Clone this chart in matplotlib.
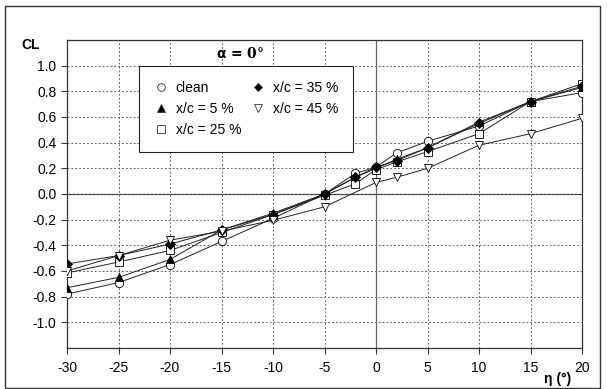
import matplotlib.pyplot as plt
from matplotlib.lines import Line2D
from matplotlib.patches import Rectangle

plt.rcParams['font.family'] = ['Liberation Sans', 'DejaVu Sans']

# flap deflection (deg) and lift coefficient per gap position
eta = [-30, -25, -20, -15, -10, -5, -2, 0, 2, 5, 10, 15, 20]
eta_45 = [-30, -25, -20, -15, -10, -5, 0, 2, 5, 10, 15, 20]

cl_clean = [-0.78, -0.69, -0.55, -0.37, -0.19, 0.00, 0.16, 0.21, 0.32, 0.41, 0.53, 0.72, 0.79]
cl_5 = [-0.73, -0.65, -0.51, -0.28, -0.15, 0.00, 0.13, 0.20, 0.27, 0.36, 0.56, 0.72, 0.83]
cl_25 = [-0.615, -0.53, -0.44, -0.30, -0.16, -0.01, 0.08, 0.19, 0.25, 0.33, 0.47, 0.72, 0.86]
cl_35 = [-0.545, -0.48, -0.39, -0.28, -0.16, 0.00, 0.13, 0.21, 0.26, 0.36, 0.55, 0.72, 0.84]
cl_45 = [-0.60, -0.48, -0.36, -0.29, -0.205, -0.10, 0.09, 0.13, 0.20, 0.38, 0.47, 0.59]

labels = ['clean', 'x/c = 5 %', 'x/c = 25 %', 'x/c = 35 %', 'x/c = 45 %']
yticks = [-1.0, -0.8, -0.6, -0.4, -0.2, 0.0, 0.2, 0.4, 0.6, 0.8, 1.0]
xticks = [-30, -25, -20, -15, -10, -5, 0, 5, 10, 15, 20]

series = [
    (eta, cl_clean, 'o', 'white'),
    (eta, cl_5, '^', 'black'),
    (eta, cl_25, 's', 'white'),
    (eta, cl_35, 'D', 'black'),
    (eta_45, cl_45, 'v', 'white'),
]

fig = plt.figure(figsize=(6.07, 3.89), dpi=100)
ax = fig.add_axes([67 / 607, 1 - 348 / 389, 515 / 607, 308 / 389])

ax.set_xlim(-30, 20)
ax.set_ylim(-1.2, 1.2)
ax.set_xticks(xticks)
ax.set_yticks(yticks)
ax.set_xticklabels([str(t) for t in xticks])
ax.set_yticklabels(['%.1f' % t for t in yticks])
ax.tick_params(direction='out', length=4, width=0.8, labelsize=10, color='#333333')
ax.tick_params(axis='x', pad=5)

ax.grid(True, linestyle=(0, (2, 2)), color='#666666', linewidth=0.7)
ax.axhline(0, color='#333333', linewidth=0.9, zorder=1)
ax.axvline(0, color='#666666', linewidth=0.9, zorder=1)
for s in ax.spines.values():
    s.set_color('#333333')
    s.set_linewidth(0.9)

for x, y, m, fc in series:
    ms = 5 if m == 'D' else 6
    ax.plot(x, y, color='#222222', linewidth=0.7, marker=m, markersize=ms,
            markerfacecolor=fc, markeredgecolor='black', markeredgewidth=0.6, zorder=3)

handles = []
for (_, _, m, fc), lab in zip(series, labels):
    ms = 4.5 if m == 'D' else 5.5
    handles.append(Line2D([], [], linestyle='none', marker=m, markersize=ms,
                          markerfacecolor=fc, markeredgecolor='#333333',
                          markeredgewidth=0.6, label=lab))
leg = fig.legend(handles=handles, ncol=2, loc='upper left',
                 bbox_to_anchor=(139 / 607, 1 - 66 / 389), borderaxespad=0,
                 fancybox=False, framealpha=1, edgecolor='#222222',
                 fontsize=10, handlelength=1.0, handletextpad=0.55,
                 columnspacing=0.7, labelspacing=0.5, borderpad=1.1)
leg.get_frame().set_linewidth(0.8)

fig.text(240 / 607, 1 - 53 / 389, r'$\mathbf{\alpha}$ = 0°', family='DejaVu Serif',
         fontsize=10, fontweight='bold', ha='center', va='center')
fig.text(31 / 607, 1 - 45 / 389, 'CL', fontsize=10, fontweight='bold',
         ha='center', va='center')
fig.text(558 / 607, 1 - 379 / 389, 'η (°)', fontsize=10, fontweight='bold',
         ha='center', va='center')

# outer frame around the whole chart
fig.add_artist(Rectangle((5 / 607, 0.003), 595 / 607, 1 - 6 / 389 - 0.003,
                         transform=fig.transFigure, fill=False,
                         edgecolor='#333333', linewidth=1))

fig.savefig('out.png', dpi=100)
